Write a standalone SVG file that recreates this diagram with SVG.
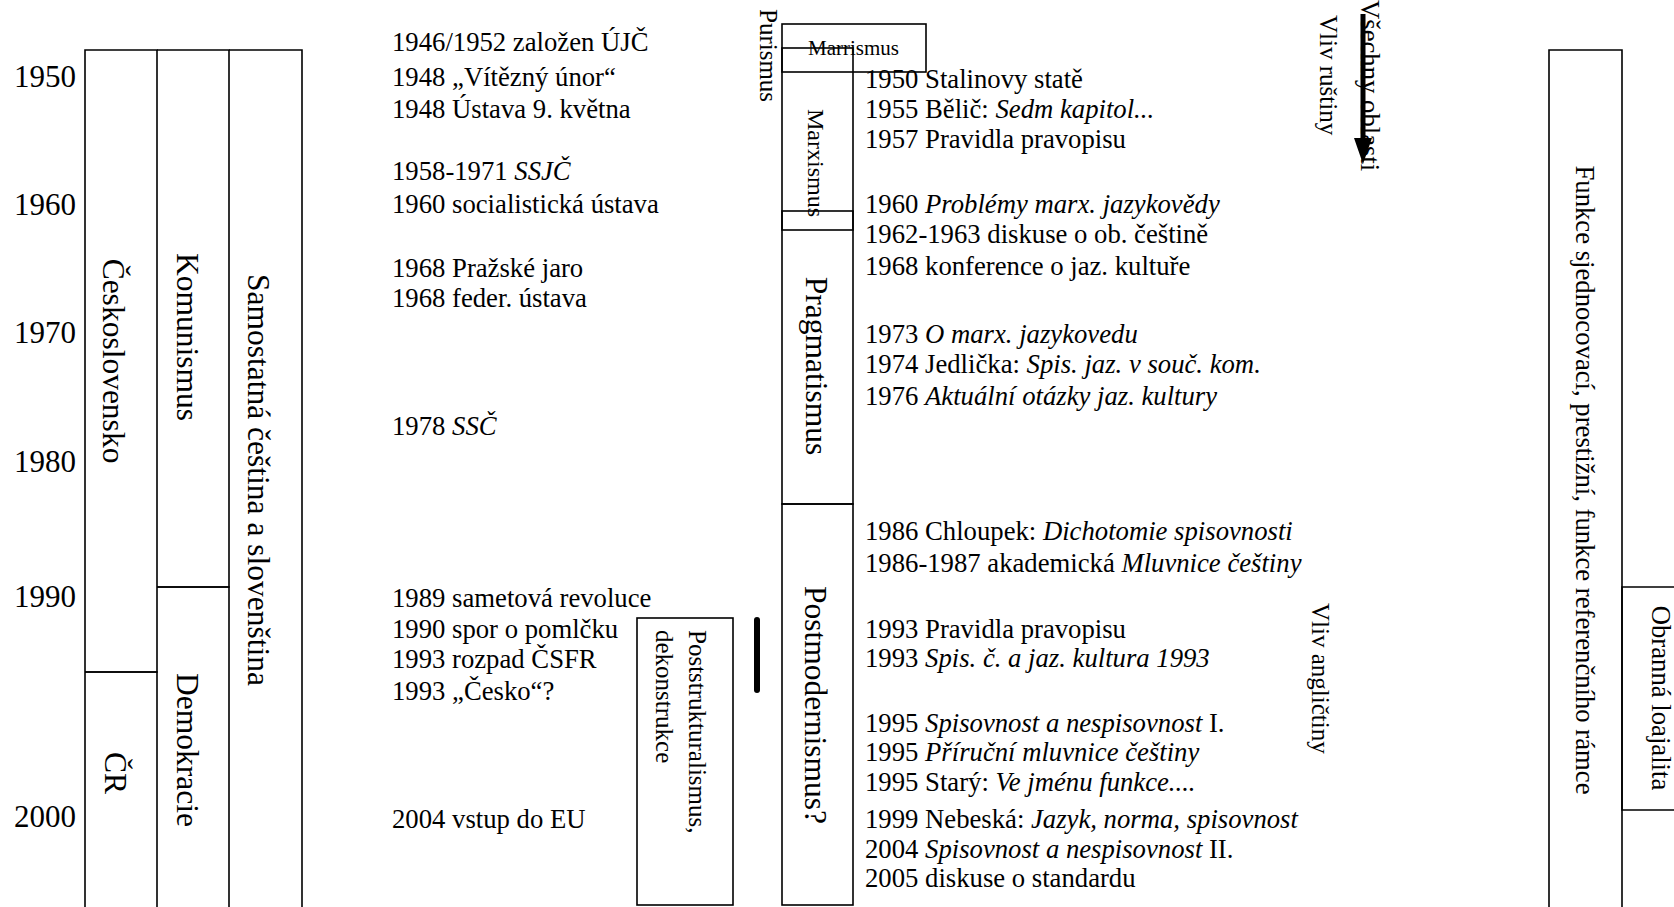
<svg xmlns="http://www.w3.org/2000/svg" width="1674" height="907" viewBox="0 0 1674 907">
<style>
text{font-family:"Liberation Serif","Times New Roman",serif;fill:#000}
.t{font-size:26.7px}
.yr{font-size:31px}
.big{font-size:31.5px}
.sm{font-size:25px}
.mx{font-size:24px}
.mr{font-size:21px}
.it{font-style:italic}
.ln{fill:none;stroke:#000;stroke-width:1.6}
</style>
<defs>
<marker id="ah" markerUnits="userSpaceOnUse" markerWidth="26" markerHeight="18" viewBox="0 0 26 18" refX="0" refY="9" orient="auto">
<path d="M0,0 L26,9 L0,18 z" fill="#000"/>
</marker>
</defs>
<rect width="1674" height="907" fill="#fff"/>

<g id="years">
<text class="yr" x="14" y="87">1950</text>
<text class="yr" x="14" y="215">1960</text>
<text class="yr" x="14" y="343">1970</text>
<text class="yr" x="14" y="472">1980</text>
<text class="yr" x="14" y="607">1990</text>
<text class="yr" x="14" y="827">2000</text>
</g>

<g id="ceskoslovensko">
<path class="ln" d="M85,907 V50 H157 V672 H85"/>
<text class="big" text-anchor="middle" transform="translate(103,361) rotate(90)">Československo</text>
</g>
<g id="cr">
<path class="ln" d="M85,672 H157 V907"/>
<text class="big" text-anchor="middle" transform="translate(105,773) rotate(90)">ČR</text>
</g>
<g id="komunismus">
<path class="ln" d="M157,50 H229 V587 H157"/>
<text class="big" text-anchor="middle" transform="translate(177,337) rotate(90)">Komunismus</text>
</g>
<g id="demokracie">
<path class="ln" d="M157,587 H229 V907"/>
<text class="big" text-anchor="middle" transform="translate(177,750) rotate(90)">Demokracie</text>
</g>
<g id="samostatna">
<path class="ln" d="M229,50 H302 V907"/>
<text class="big" text-anchor="middle" transform="translate(248,480) rotate(90)">Samostatná čeština a slovenština</text>
</g>

<g id="events-politics" class="t">
<text x="392" y="51">1946/1952 založen ÚJČ</text>
<text x="392" y="86">1948 „Vítězný únor“</text>
<text x="392" y="118">1948 Ústava 9. května</text>
<text x="392" y="180">1958-1971 <tspan class="it">SSJČ</tspan></text>
<text x="392" y="213">1960 socialistická ústava</text>
<text x="392" y="277">1968 Pražské jaro</text>
<text x="392" y="307">1968 feder. ústava</text>
<text x="392" y="435">1978 <tspan class="it">SSČ</tspan></text>
<text x="392" y="607">1989 sametová revoluce</text>
<text x="392" y="638">1990 spor o pomlčku</text>
<text x="392" y="668">1993 rozpad ČSFR</text>
<text x="392" y="700">1993 „Česko“?</text>
<text x="392" y="828">2004 vstup do EU</text>
</g>

<g id="poststrukturalismus">
<rect class="ln" x="637" y="618" width="96" height="287"/>
<text class="sm" transform="translate(689,630) rotate(90)">Poststrukturalismus,</text>
<text class="sm" transform="translate(656,630) rotate(90)">dekonstrukce</text>
</g>

<g id="purismus">
<text class="sm" transform="translate(760,9) rotate(90)">Purismus</text>
</g>

<g id="marxismus">
<rect class="ln" x="782" y="48" width="71" height="182"/>
<text class="mx" text-anchor="middle" transform="translate(808,163) rotate(90)">Marxismus</text>
</g>
<g id="marrismus">
<rect class="ln" x="782" y="24" width="144" height="48"/>
<text class="mr" x="808" y="55">Marrismus</text>
</g>
<g id="pragmatismus">
<rect class="ln" x="782" y="211" width="71" height="293"/>
<text class="big" text-anchor="middle" transform="translate(806,366) rotate(90)">Pragmatismus</text>
</g>
<g id="postmodernismus">
<rect class="ln" x="782" y="504" width="71" height="401"/>
<text class="big" text-anchor="middle" transform="translate(805,705) rotate(90)">Postmodernismus?</text>
</g>

<g id="events-linguistics" class="t">
<text x="865" y="88">1950 Stalinovy statě</text>
<text x="865" y="118">1955 Bělič: <tspan class="it">Sedm kapitol...</tspan></text>
<text x="865" y="148">1957 Pravidla pravopisu</text>
<text x="865" y="213">1960 <tspan class="it">Problémy marx. jazykovědy</tspan></text>
<text x="865" y="243">1962-1963 diskuse o ob. češtině</text>
<text x="865" y="275">1968 konference o jaz. kultuře</text>
<text x="865" y="343">1973 <tspan class="it">O marx. jazykovedu</tspan></text>
<text x="865" y="373">1974 Jedlička: <tspan class="it">Spis. jaz. v souč. kom.</tspan></text>
<text x="865" y="405">1976 <tspan class="it">Aktuální otázky jaz. kultury</tspan></text>
<text x="865" y="540">1986 Chloupek: <tspan class="it">Dichotomie spisovnosti</tspan></text>
<text x="865" y="572">1986-1987 akademická <tspan class="it">Mluvnice češtiny</tspan></text>
<text x="865" y="638">1993 Pravidla pravopisu</text>
<text x="865" y="667">1993 <tspan class="it">Spis. č. a jaz. kultura 1993</tspan></text>
<text x="865" y="732">1995 <tspan class="it">Spisovnost a nespisovnost</tspan> I.</text>
<text x="865" y="761">1995 <tspan class="it">Příruční mluvnice češtiny</tspan></text>
<text x="865" y="791">1995 Starý: <tspan class="it">Ve jménu funkce....</tspan></text>
<text x="865" y="828">1999 Nebeská: <tspan class="it">Jazyk, norma, spisovnost</tspan></text>
<text x="865" y="858">2004 <tspan class="it">Spisovnost a nespisovnost</tspan> II.</text>
<text x="865" y="887">2005 diskuse o standardu</text>
</g>

<g id="vliv-rustiny">
<text class="sm" transform="translate(1320,15) rotate(90)">Vliv ruštiny</text>
</g>
<g id="vsechny-oblasti">
<text class="t" transform="translate(1361,0) rotate(90)">Všechny oblasti</text>
</g>
<g id="vliv-anglictiny">
<text class="sm" transform="translate(1312,603) rotate(90)">Vliv angličtiny</text>
</g>

<g id="funkce">
<path class="ln" d="M1549,907 V50 H1622 V907"/>
<text class="t" text-anchor="middle" transform="translate(1576,480) rotate(90)">Funkce sjednocovací, prestižní, funkce referenčního rámce</text>
</g>
<g id="obranna-loajalita">
<path class="ln" d="M1674,587 H1622 V810 H1674"/>
<text class="t" text-anchor="middle" transform="translate(1652,698) rotate(90)">Obranná loajalita</text>
</g>

<g id="connectors">
<line x1="1363" y1="14" x2="1363" y2="138" stroke="#000" stroke-width="5" marker-end="url(#ah)"/>
<line x1="757" y1="620" x2="757" y2="690" stroke="#000" stroke-width="6" stroke-linecap="round"/>
</g>
</svg>
